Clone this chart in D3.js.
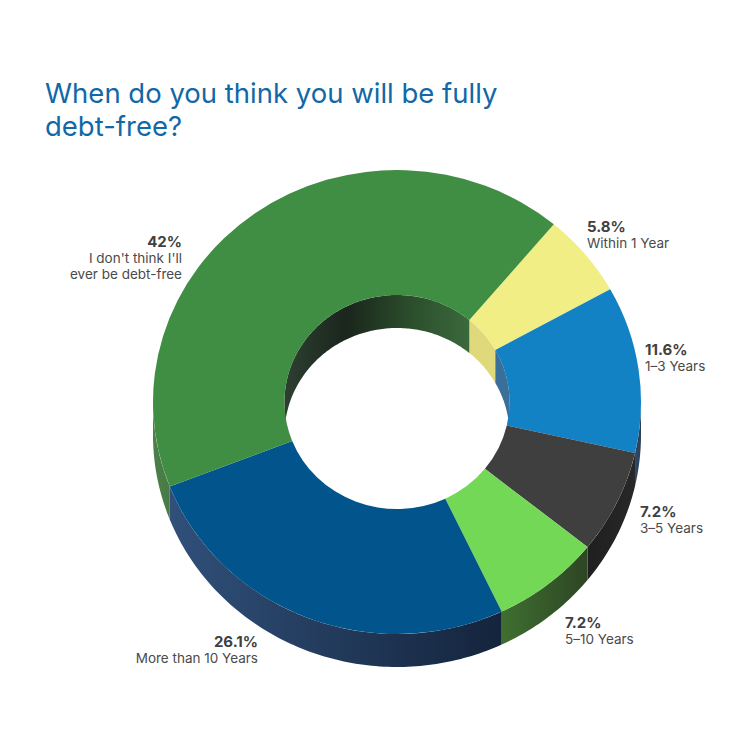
<!DOCTYPE html>
<html>
<head>
<meta charset="utf-8">
<script src="https://cdn.jsdelivr.net/npm/d3@7"></script>
<style>
  html, body { margin: 0; padding: 0; background: #fff; }
  svg { display: block; }
  text { font-family: Inter, "Open Sans", sans-serif; }
</style>
</head>
<body>
<div id="chart"></div>
<script>
var titleLines = ['When do you think you will be fully', 'debt-free?'];
var categoryLines = [
  ['Within 1 Year'],
  ['1\u20133 Years'],
  ['3\u20135 Years'],
  ['5\u201310 Years'],
  ['More than 10 Years'],
  ["I don't think I'll", 'ever be debt-free']
];
var values = [5.8, 11.6, 7.2, 7.2, 26.1, 42];
var topColors = ['#f2ee86', '#1282c4', '#3f3f3f', '#72d855', '#02558c', '#3f8e44'];
var innerWallColors = ['#dfd97c', '#3a6f9a', '#333333', '#333333', '#333333', '#2d3d30'];
// left to right colour of the outside wall
var outerWallColors = [
  ['#c9c56c', '#c9c56c'],
  ['#2c4a68', '#2c3e55'],
  ['#1f1f1f', '#282828'],
  ['#3f6f30', '#2d4524'],
  ['#30507a', '#14243c'],
  ['#4c7f49', '#477a44']
];

var width = 750, height = 750;
var cx = 397, cy = 402, ry = 232, rx = 244, ryInner = 107, depth = 33;
var sx = rx / ry;
var startDeg = 40;

var svg = d3.select('#chart').append('svg')
  .attr('width', width)
  .attr('height', height);
var defs = svg.append('defs');

var pie = d3.pie()
  .sort(null)
  .startAngle(startDeg * Math.PI / 180)
  .endAngle((startDeg + 360) * Math.PI / 180);
var arcs = pie(values);

var arc = d3.arc().innerRadius(ryInner).outerRadius(ry);

var line = d3.line();

function pt(r, a, dy) {
  return [cx + r * sx * Math.sin(a), cy - r * Math.cos(a) + dy];
}

// band of a cylinder between angles a0 and a1
function wall(r, a0, a1) {
  var n = Math.max(2, Math.ceil((a1 - a0) * 60));
  var steps = d3.range(n + 1).map(function(i) { return a0 + (a1 - a0) * i / n; });
  var top = steps.map(function(a) { return pt(r, a, 0); });
  var bottom = steps.slice().reverse().map(function(a) { return pt(r, a, depth); });
  return line(top.concat(bottom)) + 'Z';
}

function clipRange(d, from, to) {
  var a0 = Math.max(d.startAngle, from), a1 = Math.min(d.endAngle, to);
  return a1 > a0 ? [a0, a1] : null;
}

function gradient(id, stops, x0, x1) {
  var g = defs.append('linearGradient')
    .attr('id', id)
    .attr('gradientUnits', 'userSpaceOnUse')
    .attr('x1', x0).attr('x2', x1).attr('y1', 0).attr('y2', 0);
  stops.forEach(function(c, i) {
    g.append('stop')
      .attr('offset', stops.length > 1 ? i / (stops.length - 1) : 0)
      .attr('stop-color', c);
  });
}

var PI = Math.PI;

// outside wall, only the front half shows
var outerGroup = svg.append('g').attr('id', 'outer-walls');
arcs.forEach(function(d, i) {
  [[PI / 2, 3 * PI / 2]].forEach(function(r) {
    var range = clipRange(d, r[0], r[1]);
    if (!range) return;
    var x0 = pt(ry, range[0], 0)[0], x1 = pt(ry, range[1], 0)[0];
    var stops = outerWallColors[i];
    gradient('outer-' + i, stops, Math.min(x0, x1), Math.max(x0, x1));
    outerGroup.append('path')
      .attr('d', wall(ry, range[0], range[1]))
      .attr('fill', 'url(#outer-' + i + ')');
  });
});

// inside wall of the hole, only the back half shows
var innerGroup = svg.append('g').attr('id', 'inner-walls');
gradient('inner-green', ['#2e3f31', '#1a261c', '#2b4c2b', '#3a6a3c'], cx - ryInner * sx, cx + 73);
arcs.forEach(function(d, i) {
  [[-PI / 2, PI / 2], [3 * PI / 2, 5 * PI / 2]].forEach(function(r) {
    var range = clipRange(d, r[0], r[1]);
    if (!range) return;
    innerGroup.append('path')
      .attr('d', wall(ryInner, range[0], range[1]))
      .attr('fill', i === 5 ? 'url(#inner-green)' : innerWallColors[i]);
  });
});

// top face
svg.append('g')
  .attr('id', 'slices')
  .attr('transform', 'translate(' + cx + ',' + cy + ') scale(' + sx + ',1)')
  .selectAll('path')
  .data(arcs)
  .join('path')
  .attr('d', arc)
  .attr('fill', function(d, i) { return topColors[i]; });

svg.append('g')
  .attr('id', 'title')
  .selectAll('text')
  .data(titleLines)
  .join('text')
  .attr('x', 45)
  .attr('y', function(d, i) { return 103 + i * 33; })
  .attr('font-size', 27.5)
  .attr('fill', '#1268a6')
  .text(function(d) { return d; });

// anchor of each label: x, baseline of the percent line, text-anchor
var labelAnchors = [
  [587, 232, 'start'],
  [645, 355, 'start'],
  [640, 517, 'start'],
  [565, 628, 'start'],
  [258, 647, 'end'],
  [182, 247, 'end']
];

var labels = svg.append('g').attr('id', 'labels')
  .selectAll('text')
  .data(values)
  .join('text')
  .attr('text-anchor', function(d, i) { return labelAnchors[i][2]; })
  .attr('fill', '#404040');

labels.append('tspan')
  .attr('x', function(d, i) { return labelAnchors[i][0]; })
  .attr('y', function(d, i) { return labelAnchors[i][1]; })
  .attr('font-size', 15)
  .attr('font-weight', 700)
  .text(function(d) { return d + '%'; });

labels.each(function(d, i) {
  var t = d3.select(this);
  categoryLines[i].forEach(function(s, j) {
    t.append('tspan')
      .attr('x', labelAnchors[i][0])
      .attr('y', labelAnchors[i][1] + 16 + j * 15.5)
      .attr('font-size', 13.5)
      .attr('fill', '#4a4a4a')
      .text(s);
  });
});
</script>
</body>
</html>
